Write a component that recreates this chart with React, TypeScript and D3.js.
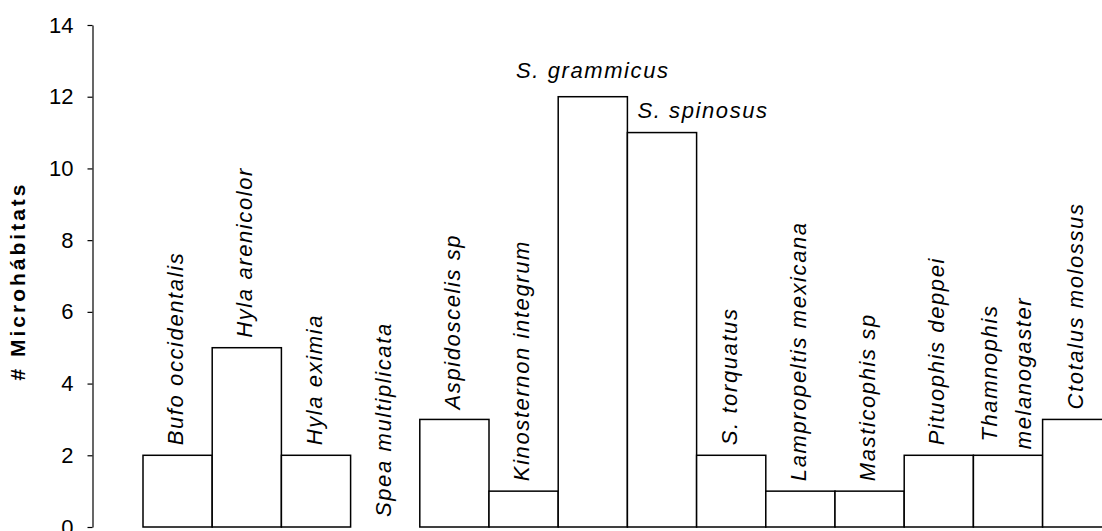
import React, { useEffect, useRef } from 'react';
import * as d3 from 'd3';

// species (x categories), "\n" splits a label over two lines
const species = [
    'Bufo occidentalis',
    'Hyla arenicolor',
    'Hyla eximia',
    'Spea multiplicata',
    'Aspidoscelis sp',
    'Kinosternon integrum',
    'S. grammicus',
    'S. spinosus',
    'S. torquatus',
    'Lampropeltis mexicana',
    'Masticophis sp',
    'Pituophis deppei',
    'Thamnophis\nmelanogaster',
    'Ctotalus molossus',
];
// number of microhabitats per species
const microhabitats = [2, 5, 2, 0, 3, 1, 12, 11, 2, 1, 1, 2, 2, 3];
// how each label sits: vertical above bar, horizontal centred above, horizontal beside
const labelMode = ['up', 'up', 'up', 'up', 'up', 'up', 'above', 'beside', 'up', 'up', 'up', 'up', 'up', 'up'];
const yTicks = [0, 2, 4, 6, 8, 10, 12, 14];
const yTitle = '# Microhábitats';

const W = 1102;
const H = 531;
const FONT = '"Liberation Sans", Arial, sans-serif';

const App = () => {
    const ref = useRef<SVGSVGElement>(null);

    useEffect(() => {
        const svg = d3.select(ref.current);
        svg.selectAll('*').remove();

        const x = d3
            .scaleBand<number>()
            .domain(d3.range(species.length))
            .range([143, 143 + species.length * 69.2])
            .padding(0);
        const y = d3.scaleLinear().domain([0, 14]).range([527, 25]);

        // y axis
        const ax = svg
            .append('g')
            .attr('transform', 'translate(92.5, 0)')
            .call(
                d3
                    .axisLeft(y)
                    .tickValues(yTicks)
                    .tickSize(5)
                    .tickSizeOuter(0)
                    .tickPadding(14)
            );
        ax.select('.domain').attr('stroke', '#000').attr('stroke-width', 1.2);
        ax.selectAll('.tick line').attr('stroke', '#000').attr('stroke-width', 1.2);
        ax.selectAll('.tick text')
            .attr('fill', '#000')
            .style('font-size', '22px')
            .style('font-family', FONT);

        svg.append('text')
            .attr('transform', 'translate(25, 281) rotate(-90)')
            .attr('text-anchor', 'middle')
            .style('font-family', FONT)
            .style('font-size', '21px')
            .style('font-weight', 'bold')
            .style('letter-spacing', '3px')
            .attr('fill', '#000')
            .text(yTitle);

        // bars
        svg.append('g')
            .selectAll('rect')
            .data(microhabitats)
            .join('rect')
            .attr('x', (d, i) => x(i)!)
            .attr('y', d => y(d))
            .attr('width', x.bandwidth())
            .attr('height', d => y(0) - y(d))
            .attr('fill', '#fff')
            .attr('stroke', '#000')
            .attr('stroke-width', 1.5)
            .style('display', d => (d > 0 ? null : 'none'));

        // species labels
        const labels = svg.append('g')
            .style('font-family', FONT)
            .style('font-size', '22px')
            .style('font-style', 'italic')
            .style('letter-spacing', '1.6px')
            .attr('fill', '#000');

        species.forEach((name, i) => {
            const cx = x(i)! + x.bandwidth() / 2;
            const top = y(microhabitats[i]);
            const mode = labelMode[i];
            if (mode === 'above') {
                labels.append('text')
                    .attr('x', cx)
                    .attr('y', top - 19)
                    .attr('text-anchor', 'middle')
                    .text(name);
            } else if (mode === 'beside') {
                labels.append('text')
                    .attr('x', x(i)! + 10)
                    .attr('y', top - 15)
                    .text(name);
            } else {
                const lines = name.split('\n');
                if (lines.length === 1) {
                    labels.append('text')
                        .attr('transform', `translate(${cx + 5.5}, ${top - 10}) rotate(-90)`)
                        .text(name);
                } else {
                    const t = labels.append('text')
                        .attr('text-anchor', 'middle');
                    lines.forEach((ln, j) => {
                        t.append('tspan')
                            .attr('x', 0)
                            .attr('y', (j - (lines.length - 1) / 2) * 34)
                            .text(ln);
                    });
                    const len = d3.max(
                        t.selectAll<SVGTSpanElement, unknown>('tspan').nodes(),
                        n => n.getComputedTextLength()
                    ) || 0;
                    t.attr('transform', `translate(${cx + 5.5}, ${top - 6 - len / 2}) rotate(-90)`);
                }
            }
        });
    }, []);

    return (
        <div style={{ position: 'absolute', left: 0, top: 0 }}>
            <svg ref={ref} width={W} height={H} style={{ display: 'block', background: '#fff' }}></svg>
        </div>
    );
};

export default App;
